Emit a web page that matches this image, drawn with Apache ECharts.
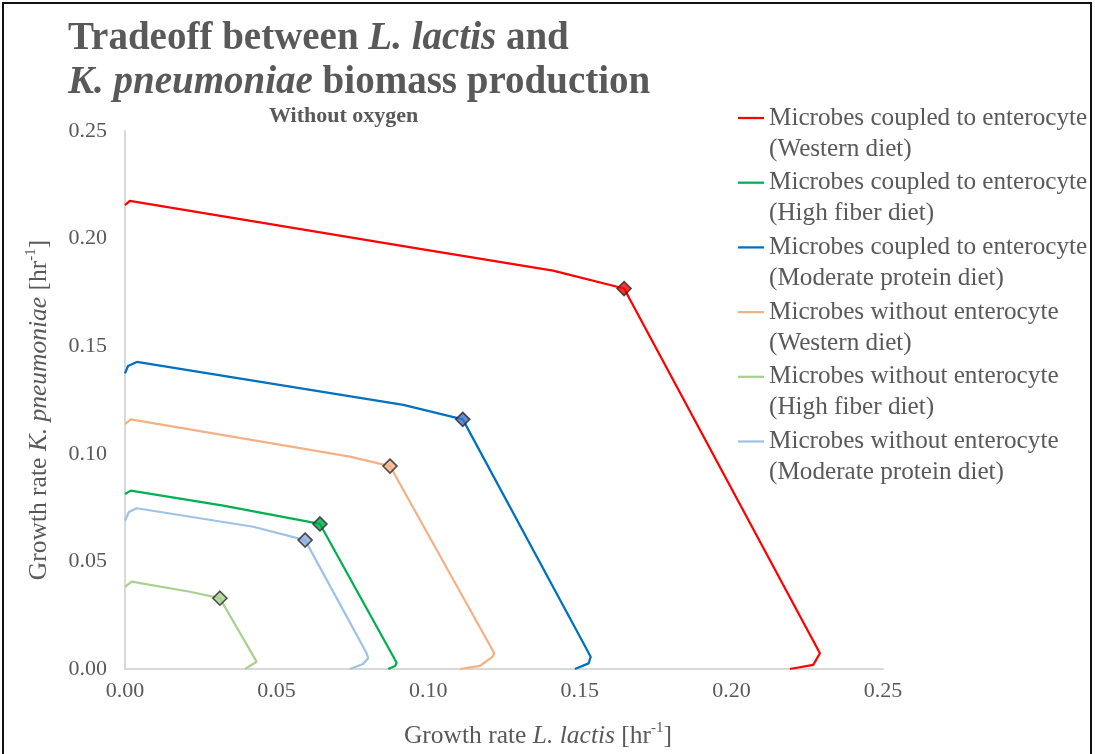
<!DOCTYPE html>
<html>
<head>
<meta charset="utf-8">
<title>Tradeoff between L. lactis and K. pneumoniae biomass production</title>
<script src="https://cdn.jsdelivr.net/npm/echarts@6/dist/echarts.min.js"></script>
<style>
  html, body { margin: 0; padding: 0; background: #ffffff; }
  #chart { position: absolute; left: 0; top: 0; width: 1095px; height: 754px; }
  #frame { position: absolute; left: 2px; top: 2px; width: 1090px; height: 770px;
           box-sizing: border-box; border: 2px solid #111; pointer-events: none; }
</style>
</head>
<body>
<div id="chart"></div>
<div id="frame"></div>
<script>
// Pareto fronts: [growth rate L. lactis, growth rate K. pneumoniae] in hr^-1
const coupledWestern = [
  [0.0000, 0.2156], [0.0016, 0.2175], [0.0973, 0.1952], [0.1412, 0.1851],
  [0.1646, 0.1768], [0.2292, 0.0073], [0.2270, 0.0019], [0.2193, 0.0000]
];
const coupledHighFiber = [
  [0.0000, 0.0813], [0.0019, 0.0829], [0.0324, 0.0759], [0.0643, 0.0674],
  [0.0896, 0.0029], [0.0891, 0.0014], [0.0868, 0.0000]
];
const coupledModProtein = [
  [0.0000, 0.1374], [0.0010, 0.1408], [0.0039, 0.1427], [0.0918, 0.1227],
  [0.1114, 0.1160], [0.1536, 0.0057], [0.1529, 0.0026], [0.1484, 0.0000]
];
const aloneWestern = [
  [0.0000, 0.1138], [0.0019, 0.1160], [0.0742, 0.0987], [0.0874, 0.0943],
  [0.1218, 0.0073], [0.1212, 0.0056], [0.1171, 0.0015], [0.1105, 0.0000]
];
const aloneHighFiber = [
  [0.0000, 0.0382], [0.0022, 0.0406], [0.0214, 0.0359], [0.0313, 0.0329],
  [0.0434, 0.0034], [0.0396, 0.0000]
];
const aloneModProtein = [
  [0.0000, 0.0689], [0.0013, 0.0730], [0.0039, 0.0747], [0.0423, 0.0661],
  [0.0594, 0.0599], [0.0797, 0.0073], [0.0802, 0.0050], [0.0785, 0.0023],
  [0.0742, 0.0000]
];

// Highlighted point on each front (diamond markers)
const kneePoints = [
  [0.1646, 0.1768], [0.0643, 0.0674], [0.1114, 0.1160],
  [0.0874, 0.0943], [0.0313, 0.0329], [0.0594, 0.0599]
];

const seriesNames = [
  'Microbes coupled to enterocyte\n(Western diet)',
  'Microbes coupled to enterocyte\n(High fiber diet)',
  'Microbes coupled to enterocyte\n(Moderate protein diet)',
  'Microbes without enterocyte\n(Western diet)',
  'Microbes without enterocyte\n(High fiber diet)',
  'Microbes without enterocyte\n(Moderate protein diet)'
];
const curves = [coupledWestern, coupledHighFiber, coupledModProtein,
                aloneWestern, aloneHighFiber, aloneModProtein];
const lineColors   = ['#FF0000', '#00B050', '#0070C0', '#F4B183', '#A9D18E', '#9DC3E6'];
const markerColors = ['#FF0000', '#00A84C', '#4472C4', '#F4B183', '#A9D18E', '#8FAADC'];

const axisTicks = [0, 0.05, 0.10, 0.15, 0.20, 0.25];

const SERIF = '"Liberation Serif", "Times New Roman", serif';
const GREY = '#595959';

const chart = echarts.init(document.getElementById('chart'), null, { renderer: 'canvas' });

const lineSeries = curves.map((pts, i) => ({
  name: seriesNames[i],
  type: 'line',
  data: pts,
  symbol: 'none',
  smooth: false,
  lineStyle: { color: lineColors[i], width: 2.25 },
  itemStyle: { color: lineColors[i] },
  z: 2
}));

const kneeSeries = {
  name: 'knee',
  type: 'scatter',
  symbol: 'diamond',
  symbolSize: 14,
  data: kneePoints.map((p, i) => ({
    value: p,
    itemStyle: { color: markerColors[i], borderColor: '#262626', borderWidth: 1.6 }
  })),
  z: 5
};

const nameRich = {
  n: { fontFamily: SERIF, fontSize: 25.5, color: GREY, lineHeight: 30 },
  i: { fontFamily: SERIF, fontSize: 25.5, fontStyle: 'italic', color: GREY, lineHeight: 30 },
  s: { fontFamily: SERIF, fontSize: 15, color: GREY, verticalAlign: 'top' }
};

const option = {
  animation: false,
  backgroundColor: '#ffffff',
  title: {
    text: '{b|Tradeoff between }{bi|L. lactis}{b| and}\n{bi|K. pneumoniae}{b| biomass production}',
    left: 68,
    top: 17,
    padding: 0,
    textStyle: {
      rich: {
        b:  { fontFamily: SERIF, fontSize: 39, fontWeight: 'bold', color: GREY, lineHeight: 44 },
        bi: { fontFamily: SERIF, fontSize: 39, fontWeight: 'bold', fontStyle: 'italic', color: GREY, lineHeight: 44 }
      }
    }
  },
  graphic: [{
    type: 'text',
    left: 269,
    top: 105,
    style: {
      text: 'Without oxygen',
      fontFamily: SERIF,
      fontSize: 22,
      fontWeight: 'bold',
      fill: GREY
    }
  }],
  legend: {
    data: seriesNames,
    orient: 'vertical',
    left: 738,
    top: 71.5,
    padding: 0,
    itemGap: -28.3,
    itemWidth: 26,
    itemHeight: 2.25,
    icon: 'rect',
    selectedMode: false,
    // leading blank line puts the first text line level with the key line
    formatter: name => '\n' + name,
    textStyle: {
      fontFamily: SERIF,
      fontSize: 25.2,
      color: GREY,
      lineHeight: 31
    }
  },
  grid: {
    left: 125,
    right: 212,
    top: 131,
    bottom: 85,
    containLabel: false,
    outerBoundsMode: 'none'
  },
  xAxis: {
    type: 'value',
    min: axisTicks[0],
    max: axisTicks[axisTicks.length - 1],
    interval: 0.05,
    name: '{n|Growth rate }{i|L. lactis}{n| [hr}{s|-1}{n|]}',
    nameLocation: 'middle',
    nameGap: 52,
    nameTextStyle: { padding: [0, 0, 0, 68], rich: nameRich },
    axisLine: { show: true, lineStyle: { color: '#D9D9D9', width: 2 } },
    axisTick: { show: false },
    splitLine: { show: false },
    axisLabel: {
      fontFamily: SERIF,
      fontSize: 22,
      color: GREY,
      margin: 11,
      formatter: v => v.toFixed(2)
    }
  },
  yAxis: {
    type: 'value',
    min: axisTicks[0],
    max: axisTicks[axisTicks.length - 1],
    interval: 0.05,
    name: '{n|Growth rate }{i|K. pneumoniae}{n| [hr}{s|-1}{n|]}',
    nameLocation: 'middle',
    nameRotate: 90,
    nameGap: 71,
    nameTextStyle: { padding: [0, 20, 0, 0], rich: nameRich },
    axisLine: { show: true, lineStyle: { color: '#D9D9D9', width: 2 } },
    axisTick: { show: false },
    splitLine: { show: false },
    axisLabel: {
      fontFamily: SERIF,
      fontSize: 22,
      color: GREY,
      margin: 18,
      formatter: v => v.toFixed(2)
    }
  },
  series: lineSeries.concat([kneeSeries])
};

chart.setOption(option);
</script>
</body>
</html>
